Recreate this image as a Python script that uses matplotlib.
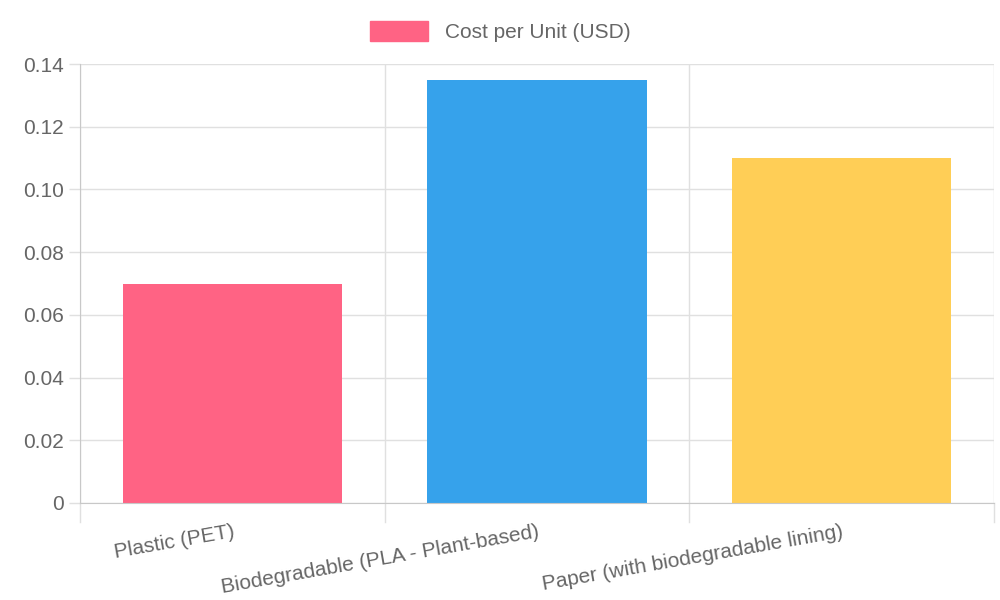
import matplotlib
matplotlib.use("Agg")
import matplotlib.pyplot as plt
from matplotlib.patches import Patch

categories = ["Plastic (PET)", "Biodegradable (PLA - Plant-based)", "Paper (with biodegradable lining)"]
values = [0.07, 0.135, 0.11]
colors = ["#FF6384", "#36A2EB", "#FFCE56"]
series_label = "Cost per Unit (USD)"

plt.rcParams['font.family'] = ['Liberation Sans', 'DejaVu Sans']
fig = plt.figure(figsize=(10, 6), dpi=100)
ax = fig.add_axes([0.08, 0.1617, 0.914, 0.7316])
x = list(range(len(categories)))
ax.bar(x, values, width=0.72, color=colors, zorder=2)
ax.set_xlim(-0.5, len(categories) - 0.5)
ax.set_ylim(0, 0.14)
ax.set_yticks([i * 0.02 for i in range(8)])
ax.set_yticklabels(["0"] + [f"{i*0.02:.2f}" for i in range(1, 8)])
ax.tick_params(axis='y', colors='#666666', labelsize=15, length=8, color='#e0e0e0', width=1)
ax.grid(axis='y', color='#e0e0e0', linewidth=1, zorder=0)
for b in [-0.5 + i for i in range(len(categories) + 1)]:
    ax.axvline(b, color='#e0e0e0', linewidth=1, zorder=0)
    ax.plot([b, b], [0, -0.006], color='#e0e0e0', linewidth=1, clip_on=False)
ax.set_xticks(x)
ax.set_xticklabels(categories, rotation=10, ha='right', va='top', rotation_mode='anchor')
ax.tick_params(axis='x', colors='#666666', labelsize=15, length=0, pad=14)
for s in ax.spines.values():
    s.set_visible(False)
ax.spines['left'].set_visible(True)
ax.spines['left'].set_color('#c8c8c8')
ax.spines['bottom'].set_visible(True)
ax.spines['bottom'].set_color('#c8c8c8')
fig.legend(handles=[Patch(color=colors[0])], labels=[series_label], loc='center',
           bbox_to_anchor=(0.5, 0.947), frameon=False, fontsize=15, labelcolor='#666666',
           handlelength=2.8, handleheight=1.1)
fig.savefig("out.png")
